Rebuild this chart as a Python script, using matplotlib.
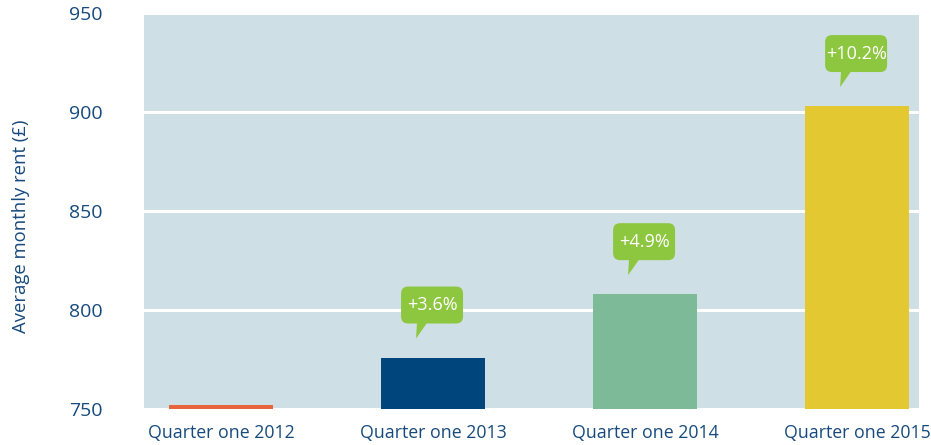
import matplotlib
matplotlib.use("Agg")
import matplotlib.pyplot as plt
import matplotlib.transforms as mtransforms
from matplotlib.patches import FancyBboxPatch, Polygon

# Data
quarters = ["Quarter one 2012", "Quarter one 2013", "Quarter one 2014", "Quarter one 2015"]
rent = [752, 776, 808, 903]
changes = [None, "+3.6%", "+4.9%", "+10.2%"]
bar_colors = ["#e8643a", "#00457c", "#7dbb98", "#e3c832"]
y_ticks = [750, 800, 850, 900, 950]

text_blue = "#174a7c"
panel = "#cfdfe6"
callout_green = "#8dc63f"

plt.rcParams["font.family"] = ["Open Sans", "DejaVu Sans"]

fig = plt.figure(figsize=(9.31, 4.45), dpi=100)
ax = fig.add_axes([0.1547, 0.0809, 0.8324, 0.8899])
ax.set_facecolor(panel)

x = range(len(quarters))
ax.bar(x, rent, width=0.49, color=bar_colors, zorder=3)

ax.set_ylim(750, 950)
ax.set_xlim(-0.363, 3.292)
ax.set_yticks(y_ticks)
ax.set_xticks(list(x))
ax.set_xticklabels(quarters)
ax.tick_params(axis="both", length=0, labelcolor=text_blue)
ax.tick_params(axis="y", pad=30, labelsize=14)
ax.tick_params(axis="x", pad=11, labelsize=12.8)
ax.grid(axis="y", color="white", linewidth=2.2, zorder=1)
for s in ax.spines.values():
    s.set_visible(False)
ax.set_ylabel("Average monthly rent (£)", color=text_blue, fontsize=13.3)
ax.yaxis.set_label_coords(-0.147, 0.462)

# callout bubbles, shapes in points relative to the bar top
for i, (v, lab) in enumerate(zip(rent, changes)):
    if lab is None:
        continue
    tr = mtransforms.Affine2D().scale(fig.dpi / 72) + mtransforms.ScaledTranslation(i, v, ax.transData)
    box = FancyBboxPatch((-23, 24.5), 44.6, 26.6, boxstyle="round,pad=0,rounding_size=5",
                         fc=callout_green, ec="none", transform=tr, zorder=5, clip_on=False)
    tail = Polygon([(-12.2, 13.7), (-11.5, 26), (-3.6, 26)], closed=True,
                   fc=callout_green, ec="none", transform=tr, zorder=5, clip_on=False)
    ax.add_patch(box)
    ax.add_patch(tail)
    ax.text(-0.7, 37.8, lab, transform=tr, ha="center", va="center",
            color="white", fontsize=13, zorder=6)

fig.savefig("out.png", dpi=100)
